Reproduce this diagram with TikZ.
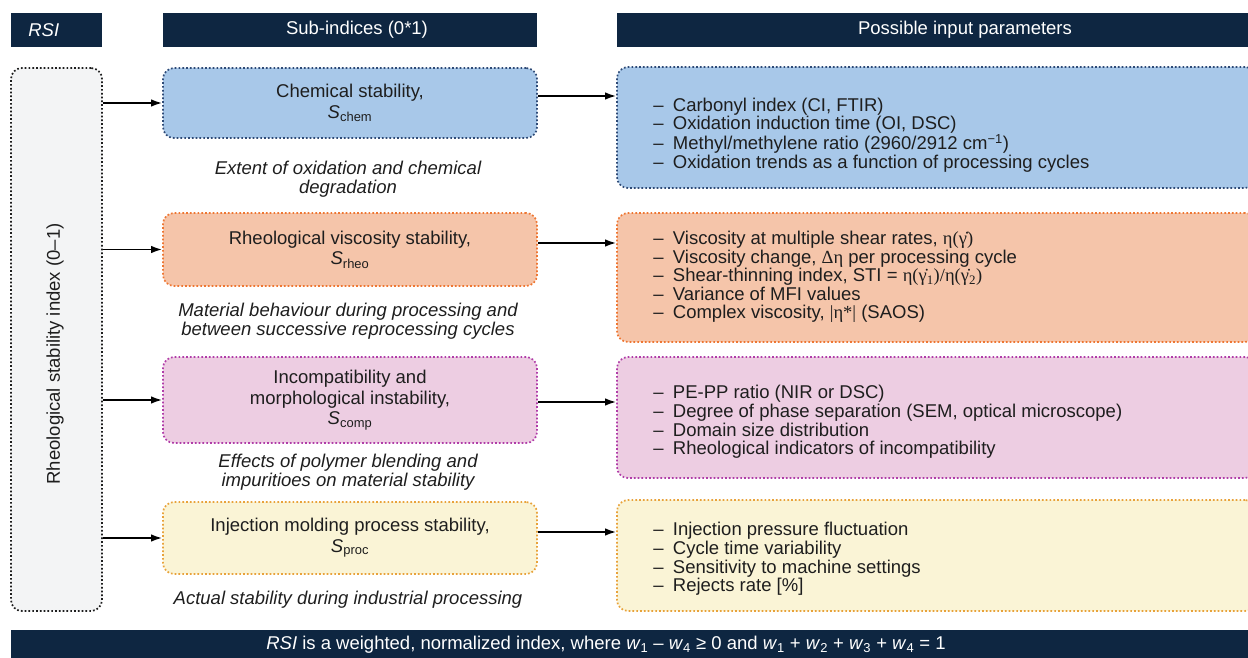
\documentclass[tikz,border=0pt]{standalone}
\usepackage{fontspec}
\setmainfont{Liberation Sans}
\newfontfamily\greekfont{Liberation Serif}
\usetikzlibrary{arrows.meta}

\definecolor{navy}{RGB}{14,38,65}
\definecolor{inktext}{RGB}{30,30,30}
\definecolor{rsigray}{RGB}{243,244,245}
\definecolor{chemfill}{RGB}{168,200,233}
\definecolor{chemline}{RGB}{46,74,118}
\definecolor{rheofill}{RGB}{245,197,170}
\definecolor{rheoline}{RGB}{238,118,50}
\definecolor{compfill}{RGB}{237,205,226}
\definecolor{compline}{RGB}{176,60,168}
\definecolor{procfill}{RGB}{250,244,214}
\definecolor{procline}{RGB}{232,162,58}

\newcommand{\bodyfont}{\fontsize{18.5pt}{18.6pt}\selectfont}
\newcommand{\subfont}{\fontsize{18.5pt}{20.5pt}\selectfont}
\newcommand{\grk}[1]{{\greekfont #1}}

\tikzset{every picture/.style={line width=0.75pt}}
\tikzset{
  headtext/.style={text=white, font=\bodyfont, inner sep=0pt},
  dotbox/.style={rounded corners=11pt, line width=1.7pt, dash pattern=on 1.7pt off 2.1pt, inner sep=0pt},
  subbox/.style={dotbox, minimum width=374pt, align=center, text=inktext, font=\subfont},
  inbox/.style={dotbox, minimum width=639pt},
  itemlist/.style={anchor=west, align=left, inner sep=0pt, text=inktext, font=\bodyfont},
  desc/.style={align=center, inner sep=0pt, text=inktext, font=\bodyfont\itshape},
  arr/.style={line width=1.7pt, -{Latex[length=11pt,width=7.5pt]}}
}

\begin{document}
\begin{tikzpicture}[x=1pt,y=1pt,yscale=-1,xscale=1]
	\path[use as bounding box, clip] (0,0) rectangle (1248,658);

	%Shape: Header bars
	\fill[navy] (11,13) rectangle (102,47);
	\fill[navy] (163,13) rectangle (537,47);
	\fill[navy] (617,13) rectangle (1260,47);
	%Shape: Footer bar
	\fill[navy] (11,630) rectangle (1260,662);

	% Text Node
	\node[headtext, anchor=west] (hrsi) at (28,30) {\itshape RSI};
	% Text Node
	\node[headtext] (hsub) at (357,30) {Sub-indices (0*1)};
	% Text Node
	\node[headtext] (hinput) at (965,30) {Possible input parameters};

	%Shape: Rounded Rectangle (RSI)
	\node[dotbox, fill=rsigray, draw=inktext, minimum width=91pt, minimum height=543pt] (rsi) at (56.5,339.5) {};
	% Text Node
	\node[rotate=90, text=inktext, font=\bodyfont, inner sep=0pt] (rsilabel) at (55,354) {Rheological stability index (0--1)};

	%Shape: Rounded Rectangle (sub-indices)
	\node[subbox, fill=chemfill, draw=chemline, minimum height=70pt] (chem) at (350,103) {Chemical stability,\\\textit{S}\textsubscript{chem}};
	\node[subbox, fill=rheofill, draw=rheoline, minimum height=73pt] (rheo) at (350,249.5) {Rheological viscosity stability,\\\textit{S}\textsubscript{rheo}};
	\node[subbox, fill=compfill, draw=compline, minimum height=86pt] (comp) at (350,400) {Incompatibility and\\morphological instability,\\\textit{S}\textsubscript{comp}};
	\node[subbox, fill=procfill, draw=procline, minimum height=72pt] (proc) at (350,538) {Injection molding process stability,\\\textit{S}\textsubscript{proc}};

	% Text Node
	\node[desc] (chemdesc) at (348,179) {Extent of oxidation and chemical\\degradation};
	% Text Node
	\node[desc] (rheodesc) at (348,321) {Material behaviour during processing and\\between successive reprocessing cycles};
	% Text Node
	\node[desc] (compdesc) at (348,472.5) {Effects of polymer blending and\\impuritioes on material stability};
	% Text Node
	\node[desc] (procdesc) at (348,600) {Actual stability during industrial processing};

	%Shape: Rounded Rectangle (input parameters)
	\node[inbox, fill=chemfill, draw=chemline, minimum height=121pt] (chemin) at (936.5,127.5) {};
	\node[inbox, fill=rheofill, draw=rheoline, minimum height=129pt] (rheoin) at (936.5,277.5) {};
	\node[inbox, fill=compfill, draw=compline, minimum height=121pt] (compin) at (936.5,417.5) {};
	\node[inbox, fill=procfill, draw=procline, minimum height=111pt] (procin) at (936.5,555.5) {};

	% Text Node
	\node[itemlist] (chemlist) at (653,135) {--\enspace Carbonyl index (CI, FTIR)\\
		--\enspace Oxidation induction time (OI, DSC)\\
		--\enspace Methyl/methylene ratio (2960/2912 cm\textsuperscript{−1})\\
		--\enspace Oxidation trends as a function of processing cycles};
	% Text Node
	\node[itemlist] (rheolist) at (653,277) {--\enspace Viscosity at multiple shear rates, \grk{η(γ̇)}\\
		--\enspace Viscosity change, \grk{Δη} per processing cycle\\
		--\enspace Shear-thinning index, STI = \grk{η(γ̇\textsubscript{1})/η(γ̇\textsubscript{2})}\\
		--\enspace Variance of MFI values\\
		--\enspace Complex viscosity, \grk{|η*|} (SAOS)};
	% Text Node
	\node[itemlist] (complist) at (653,422) {--\enspace PE-PP ratio (NIR or DSC)\\
		--\enspace Degree of phase separation (SEM, optical microscope)\\
		--\enspace Domain size distribution\\
		--\enspace Rheological indicators of incompatibility};
	% Text Node
	\node[itemlist] (proclist) at (653,559) {--\enspace Injection pressure fluctuation\\
		--\enspace Cycle time variability\\
		--\enspace Sensitivity to machine settings\\
		--\enspace Rejects rate [\%]};

	%Straight Lines (RSI to sub-indices)
	\draw[arr] (rsi.east |- chem.west) -- (chem.west);
	\draw[arr] (rsi.east |- rheo.west) -- (rheo.west);
	\draw[arr] (rsi.east |- comp.west) -- (comp.west);
	\draw[arr] (rsi.east |- proc.west) -- (proc.west);
	%Straight Lines (sub-indices to parameters)
	\draw[arr] ([yshift=-7pt]chem.east) -- ([yshift=-7pt]chem.east -| chemin.west);
	\draw[arr] ([yshift=-6.5pt]rheo.east) -- ([yshift=-6.5pt]rheo.east -| rheoin.west);
	\draw[arr] ([yshift=2pt]comp.east) -- ([yshift=2pt]comp.east -| compin.west);
	\draw[arr] ([yshift=-6pt]proc.east) -- ([yshift=-6pt]proc.east -| procin.west);

	% Text Node
	\node[headtext] (footnote) at (606,645) {\textit{RSI} is a weighted, normalized index, where \textit{w}\textsubscript{1} -- \textit{w}\textsubscript{4} ≥ 0 and \textit{w}\textsubscript{1} + \textit{w}\textsubscript{2} + \textit{w}\textsubscript{3} + \textit{w}\textsubscript{4} = 1};

\end{tikzpicture}
\end{document}
